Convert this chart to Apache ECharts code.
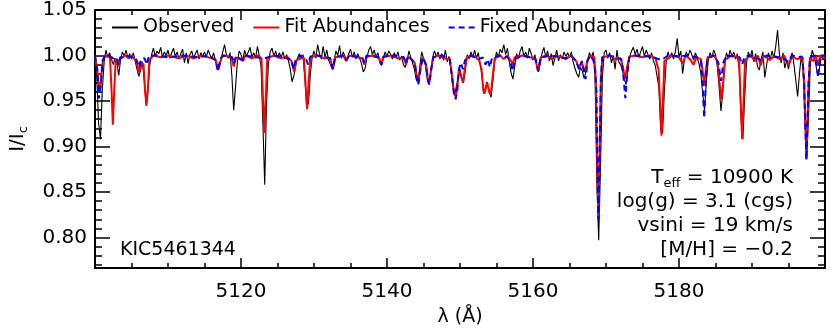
<!DOCTYPE html>
<html>
<head>
<meta charset="utf-8">
<title>KIC5461344</title>
<script src="https://cdn.jsdelivr.net/npm/echarts@6/dist/echarts.min.js"></script>
<style>
    html, body { margin: 0; padding: 0; background: #fff; }
    #chart { width: 830px; height: 332px; }
</style>
</head>
<body>
<div id="chart"></div>
<script>
// observed spectrum, sampled every 0.25 A from 5100 A
var obsStart = 5100;
var obsStep = 0.25;
var observed = [
    1.004, 0.975, 0.925, 0.908, 0.962, 0.993, 1.006, 0.998, 1.003, 0.996, 0.990, 0.997, 0.992, 0.978, 0.995, 1.004, 0.999, 1.006, 0.997, 1.002,
    0.996, 1.003, 0.994, 0.985, 0.977, 0.984, 0.993, 0.972, 0.945, 0.962, 0.990, 1.001, 1.008, 0.999, 1.005, 1.002, 1.009, 0.998, 1.004, 1.000,
    1.006, 0.997, 1.003, 1.008, 0.999, 1.004, 0.996, 1.002, 1.007, 0.992, 1.003, 0.991, 1.001, 1.005, 0.997, 1.002, 1.006, 0.996, 1.003, 0.999,
    1.004, 0.998, 1.006, 1.001, 0.996, 1.003, 0.994, 0.985, 0.984, 0.995, 1.004, 1.012, 1.001, 0.997, 1.003, 0.978, 0.940, 0.965, 0.993, 1.005,
    1.001, 0.995, 1.006, 0.999, 1.004, 1.009, 0.998, 1.003, 0.997, 1.010, 1.000, 0.988, 0.925, 0.858, 0.948, 0.990, 1.004, 1.008, 0.999, 1.005,
    0.997, 1.003, 0.998, 1.004, 0.996, 1.001, 0.994, 0.985, 0.971, 0.978, 0.990, 0.997, 1.002, 0.996, 1.001, 0.975, 0.943, 0.948, 0.980, 0.998,
    1.005, 0.997, 1.012, 1.002, 0.996, 1.010, 0.998, 1.006, 0.995, 0.990, 0.985, 0.994, 1.005, 1.000, 1.011, 0.997, 1.004, 0.999, 0.994, 1.002,
    1.007, 0.998, 1.004, 0.996, 1.002, 0.997, 0.991, 0.982, 0.986, 0.998, 1.006, 1.010, 1.001, 1.006, 0.998, 1.003, 0.993, 0.989, 0.997, 1.004,
    0.999, 1.005, 1.001, 0.996, 1.003, 0.998, 1.004, 0.995, 0.999, 0.990, 0.987, 0.994, 1.005, 0.998, 0.992, 0.985, 0.974, 0.970, 0.988, 1.004,
    0.997, 0.990, 0.975, 0.969, 0.982, 0.998, 1.005, 0.999, 1.004, 0.996, 1.002, 0.995, 1.006, 0.993, 0.999, 0.985, 0.968, 0.956, 0.958, 0.976,
    0.985, 0.975, 0.971, 0.985, 1.001, 0.996, 1.004, 0.998, 1.006, 0.997, 1.003, 0.992, 0.978, 0.958, 0.962, 0.970, 0.960, 0.954, 0.972, 0.993,
    1.004, 0.998, 1.007, 1.003, 1.012, 1.001, 1.008, 0.993, 0.981, 0.974, 0.988, 1.002, 0.997, 1.005, 1.010, 0.999, 1.004, 0.997, 1.008, 1.002,
    0.995, 1.001, 0.990, 0.982, 0.991, 1.003, 1.009, 0.998, 1.005, 0.994, 1.002, 0.989, 0.997, 1.006, 0.994, 1.001, 0.996, 1.004, 0.999, 1.003,
    0.998, 1.004, 0.993, 0.986, 0.980, 0.976, 0.987, 0.983, 0.975, 0.982, 0.996, 1.003, 0.997, 1.004, 0.975, 0.860, 0.797, 0.880, 0.975, 1.003,
    1.006, 0.997, 1.003, 0.992, 1.000, 0.985, 1.006, 0.993, 0.990, 0.984, 0.974, 0.968, 0.986, 0.999, 1.005, 1.009, 1.001, 1.007, 0.998, 1.004,
    1.010, 0.999, 1.006, 1.001, 0.996, 1.003, 0.994, 0.989, 0.988, 0.965, 0.918, 0.915, 0.962, 0.993, 1.004, 0.997, 1.003, 0.996, 1.004, 1.019,
    0.998, 1.005, 0.980, 0.996, 1.004, 0.999, 1.006, 1.001, 0.995, 1.003, 0.997, 0.991, 0.980, 0.958, 0.940, 0.972, 0.994, 1.003, 0.998, 1.006,
    1.001, 0.988, 0.965, 0.939, 0.960, 0.990, 1.003, 0.997, 1.006, 0.999, 1.004, 0.996, 1.002, 0.985, 0.930, 0.908, 0.955, 0.992, 1.004, 0.998,
    1.006, 0.993, 1.002, 0.988, 0.984, 0.996, 1.004, 0.976, 0.989, 1.003, 0.995, 1.005, 0.997, 1.010, 1.028, 1.002, 0.992, 1.003, 0.986, 0.995,
    0.985, 0.997, 1.003, 0.990, 0.973, 0.955, 0.980, 1.000, 0.985, 0.930, 0.887, 0.935, 0.992, 1.006, 0.999, 0.990, 0.978, 0.986, 1.001, 0.995,
    0.998
];

// model spectra as [wavelength, normalised flux]
var fitAbund = [
    [5100.0, 0.998], [5100.3, 0.985], [5100.55, 0.962], [5100.75, 0.965], [5101.0, 0.990], [5101.3, 1.000],
    [5102.05, 0.998], [5102.25, 0.965], [5102.45, 0.924], [5102.65, 0.965], [5102.85, 0.997],
    [5103.0, 0.995], [5103.2, 0.988], [5103.4, 0.996], [5104.2, 1.000], [5104.6, 0.997], [5105.0, 1.000],
    [5105.7, 0.993], [5106.0, 0.981], [5106.3, 0.993],
    [5106.65, 0.990], [5106.85, 0.963], [5107.05, 0.945], [5107.25, 0.963], [5107.45, 0.995],
    [5108.0, 1.000], [5109.0, 0.998], [5110.0, 1.000], [5111.5, 0.997], [5112.5, 1.000], [5113.5, 0.997], [5114.5, 1.000],
    [5116.5, 0.996], [5116.9, 0.984], [5117.3, 0.997], [5117.6, 1.000],
    [5118.7, 0.998], [5119.0, 0.988], [5119.3, 0.998],
    [5120.3, 0.994], [5120.6, 1.000], [5121.5, 0.997], [5122.3, 1.000],
    [5122.8, 0.997], [5123.0, 0.955], [5123.2, 0.915], [5123.4, 0.955], [5123.6, 0.997],
    [5124.5, 1.000], [5125.5, 0.997], [5126.3, 0.999],
    [5126.9, 0.994], [5127.3, 0.982], [5127.6, 0.995],
    [5128.6, 0.998], [5128.8, 0.975], [5129.05, 0.941], [5129.3, 0.975], [5129.5, 0.998],
    [5130.5, 1.000], [5131.4, 0.997], [5132.2, 0.997], [5132.6, 0.985], [5132.9, 0.998],
    [5134.0, 1.000], [5134.4, 0.994], [5134.8, 1.000], [5136.6, 0.997], [5136.9, 0.990], [5137.2, 0.999],
    [5138.3, 1.000], [5139.0, 0.996], [5139.25, 0.990], [5139.5, 0.998],
    [5140.5, 1.000], [5141.5, 0.997], [5142.3, 0.998], [5142.6, 0.990], [5142.9, 0.999],
    [5143.8, 0.992], [5144.1, 0.976], [5144.3, 0.971], [5144.55, 0.985], [5144.9, 0.998],
    [5145.35, 0.990], [5145.6, 0.974], [5145.8, 0.970], [5146.05, 0.985], [5146.35, 0.998],
    [5147.0, 1.000], [5147.8, 0.997], [5148.6, 0.996],
    [5148.95, 0.975], [5149.2, 0.958], [5149.4, 0.955], [5149.6, 0.962], [5149.85, 0.985],
    [5150.1, 0.983], [5150.4, 0.970], [5150.65, 0.985], [5150.95, 0.998],
    [5151.8, 1.000], [5152.6, 0.995],
    [5152.95, 0.985], [5153.2, 0.962], [5153.35, 0.958], [5153.7, 0.971], [5154.0, 0.960], [5154.2, 0.957], [5154.45, 0.975], [5154.75, 0.997],
    [5155.5, 1.000], [5156.0, 0.996], [5156.5, 1.000], [5157.0, 0.994], [5157.2, 0.990], [5157.5, 0.998],
    [5158.5, 1.000], [5159.5, 0.998], [5160.3, 0.997], [5160.7, 0.983], [5161.05, 0.998],
    [5162.0, 1.000], [5162.6, 0.996], [5163.2, 1.000], [5164.5, 0.996], [5165.2, 1.000],
    [5165.9, 0.994], [5166.3, 0.986], [5166.65, 0.993], [5167.1, 0.982], [5167.5, 0.996], [5167.9, 1.000],
    [5168.4, 0.998], [5168.6, 0.975], [5168.8, 0.880], [5168.95, 0.820], [5169.1, 0.880], [5169.3, 0.975], [5169.5, 0.998],
    [5170.5, 1.000], [5171.3, 0.996], [5172.0, 0.997],
    [5172.3, 0.988], [5172.6, 0.974], [5172.9, 0.988], [5173.2, 0.999],
    [5174.0, 1.000], [5175.0, 0.998], [5176.0, 1.000], [5176.8, 0.997], [5177.0, 0.990], [5177.2, 0.985],
    [5177.4, 0.950], [5177.6, 0.912], [5177.8, 0.950], [5178.0, 0.994],
    [5179.0, 1.000], [5180.0, 0.998], [5180.5, 0.991], [5180.9, 1.000], [5181.5, 0.996], [5182.0, 0.990], [5182.4, 0.998],
    [5183.0, 0.996], [5183.25, 0.982], [5183.45, 0.967], [5183.65, 0.982], [5183.9, 0.998],
    [5184.8, 1.000], [5185.3, 0.993], [5185.55, 0.970], [5185.8, 0.952], [5186.05, 0.970], [5186.3, 0.995],
    [5187.2, 1.000], [5188.0, 0.998], [5188.25, 0.992], [5188.45, 0.950], [5188.65, 0.908], [5188.85, 0.950], [5189.05, 0.995],
    [5189.8, 1.000], [5190.4, 0.994], [5190.8, 1.000], [5191.2, 0.989], [5191.6, 1.000], [5192.4, 0.995], [5193.0, 0.999],
    [5193.8, 0.996], [5194.4, 1.000], [5195.0, 0.989], [5195.5, 0.999], [5196.2, 0.996], [5196.9, 0.998],
    [5197.15, 0.970], [5197.3, 0.925], [5197.45, 0.887], [5197.6, 0.925], [5197.75, 0.970], [5197.95, 0.998],
    [5198.4, 0.994], [5198.7, 1.000], [5199.05, 0.990], [5199.35, 1.000], [5200.0, 0.997]
];

var fixedAbund = [
    [5100.0, 1.000], [5100.3, 0.985], [5100.55, 0.953], [5100.8, 0.968], [5101.05, 0.995], [5101.4, 1.000],
    [5102.3, 0.998], [5102.6, 0.996], [5103.0, 0.997], [5103.2, 0.990], [5103.45, 0.998],
    [5104.5, 0.999], [5105.5, 0.998], [5105.8, 0.993], [5106.05, 0.987], [5106.3, 0.996],
    [5106.8, 0.997], [5107.1, 0.990], [5107.4, 1.000],
    [5108.5, 1.000], [5110.0, 0.998], [5112.0, 1.000], [5114.0, 0.998], [5115.5, 1.000],
    [5116.5, 0.995], [5116.85, 0.983], [5117.2, 0.997], [5117.6, 1.000],
    [5118.8, 0.998], [5119.05, 0.991], [5119.3, 0.999],
    [5120.3, 0.995], [5120.6, 1.000], [5122.0, 0.998], [5123.2, 0.997], [5124.5, 1.000], [5126.0, 0.998],
    [5126.9, 0.995], [5127.2, 0.985], [5127.5, 0.996], [5128.2, 1.000], [5128.9, 0.996], [5129.2, 0.990], [5129.5, 0.999],
    [5130.5, 1.000], [5132.2, 0.997], [5132.6, 0.985], [5132.9, 0.998], [5134.0, 1.000], [5134.4, 0.995], [5134.8, 1.000],
    [5136.6, 0.998], [5136.9, 0.992], [5137.2, 1.000], [5138.9, 0.998], [5139.2, 0.990], [5139.5, 0.999],
    [5141.0, 1.000], [5142.3, 0.998], [5142.6, 0.991], [5142.9, 1.000],
    [5143.8, 0.992], [5144.1, 0.974], [5144.3, 0.968], [5144.55, 0.983], [5144.9, 0.998],
    [5145.35, 0.990], [5145.6, 0.972], [5145.8, 0.968], [5146.05, 0.984], [5146.35, 0.998],
    [5147.5, 1.000], [5148.6, 0.996], [5148.95, 0.974], [5149.2, 0.956], [5149.4, 0.952], [5149.6, 0.960], [5149.85, 0.985],
    [5150.1, 0.992], [5150.4, 0.985], [5150.7, 0.995], [5151.5, 1.000], [5152.6, 0.996],
    [5153.1, 0.998], [5153.5, 0.990], [5153.8, 0.996], [5154.1, 0.987], [5154.4, 0.998],
    [5155.5, 1.000], [5156.5, 0.998], [5156.9, 0.993], [5157.2, 0.983], [5157.5, 0.996],
    [5158.5, 1.000], [5160.3, 0.997], [5160.7, 0.983], [5161.05, 0.998],
    [5162.5, 1.000], [5164.5, 0.997], [5165.2, 1.000],
    [5165.9, 0.994], [5166.3, 0.985], [5166.7, 0.994], [5167.2, 0.974], [5167.5, 0.995], [5167.9, 1.000],
    [5168.3, 0.994], [5168.5, 0.985], [5168.7, 0.960], [5168.82, 0.880], [5168.95, 0.820], [5169.1, 0.880], [5169.3, 0.975], [5169.5, 0.998],
    [5170.5, 1.000], [5171.5, 0.997], [5172.1, 0.996],
    [5172.35, 0.980], [5172.65, 0.953], [5172.9, 0.978], [5173.2, 0.998],
    [5174.0, 1.000], [5176.0, 0.999], [5177.6, 0.995], [5178.5, 1.000],
    [5180.0, 0.999], [5181.0, 1.000], [5182.5, 0.998],
    [5183.0, 0.995], [5183.2, 0.975], [5183.45, 0.931], [5183.7, 0.975], [5183.9, 0.997],
    [5184.8, 1.000], [5185.4, 0.992], [5185.75, 0.972], [5186.1, 0.993], [5186.5, 1.000],
    [5188.3, 0.998], [5188.65, 0.990], [5189.0, 0.999],
    [5190.0, 1.000], [5191.2, 0.995], [5192.0, 1.000], [5194.0, 0.998], [5195.0, 0.993], [5195.5, 1.000], [5196.9, 0.998],
    [5197.15, 0.970], [5197.3, 0.925], [5197.45, 0.885], [5197.6, 0.925], [5197.75, 0.970], [5197.95, 0.998],
    [5198.7, 1.000], [5198.85, 0.990], [5199.05, 0.976], [5199.25, 0.990], [5199.5, 1.000], [5200.0, 1.000]
];

var seriesNames = ['Observed', 'Fit Abundances', 'Fixed Abundances'];
var paramLines = [
    ['T', 'eff', ' = 10900 K'],
    ['log(g) = 3.1 (cgs)'],
    ['vsini = 19 km/s'],
    ['[M/H] = \u22120.2']
];
var starName = 'KIC5461344';

var FONT = 'DejaVu Sans';

var observedPairs = observed.map(function (v, i) {
    return [obsStart + i * obsStep, v];
});

function paramText() {
    return paramLines.map(function (parts) {
        if (parts.length === 3) {
            return '{a|' + parts[0] + '}{s|' + parts[1] + '}{a|' + parts[2] + '}';
        }
        return '{a|' + parts[0] + '}';
    }).join('\n');
}

function xAxisBase(pos) {
    return {
        type: 'value',
        position: pos,
        min: 5100,
        max: 5200,
        interval: 20,
        axisLine: { lineStyle: { color: '#000', width: 2 } },
        axisTick: { inside: true, length: 10, lineStyle: { color: '#000', width: 1.5 } },
        minorTick: { show: true, splitNumber: 4, length: 5, lineStyle: { color: '#000', width: 1.5 } },
        splitLine: { show: false },
        axisLabel: {
            show: pos === 'bottom',
            color: '#000',
            fontFamily: FONT,
            fontSize: 20,
            margin: 14,
            showMinLabel: false,
            showMaxLabel: false,
            formatter: function (v) { return String(v); }
        }
    };
}

function yAxisBase(pos) {
    return {
        type: 'value',
        position: pos,
        min: 0.7665,
        max: 1.05,
        minInterval: 0.05,
        maxInterval: 0.05,
        axisLine: { show: true, lineStyle: { color: '#000', width: 2 } },
        axisTick: { show: true, inside: true, length: 15, lineStyle: { color: '#000', width: 1.5 } },
        minorTick: { show: true, splitNumber: 5, length: 7, lineStyle: { color: '#000', width: 1.5 } },
        splitLine: { show: false },
        axisLabel: {
            show: pos === 'left',
            color: '#000',
            fontFamily: FONT,
            fontSize: 20,
            margin: 8,
            showMinLabel: false,
            formatter: function (v) { return v.toFixed(2); }
        }
    };
}

var chart = echarts.init(document.getElementById('chart'), null, { renderer: 'canvas' });

var xBottom = xAxisBase('bottom');
xBottom.name = '\u03bb (\u00c5)';
xBottom.nameLocation = 'middle';
xBottom.nameGap = 40;
xBottom.nameTextStyle = { color: '#000', fontFamily: FONT, fontSize: 19 };

var yLeft = yAxisBase('left');
yLeft.name = '{a|I/I}{s|c}';
yLeft.nameLocation = 'middle';
yLeft.nameGap = 65;
yLeft.nameTextStyle = {
    color: '#000',
    rich: {
        a: { fontFamily: FONT, fontSize: 20, color: '#000', lineHeight: 24 },
        s: { fontFamily: FONT, fontSize: 13, color: '#000', lineHeight: 13, verticalAlign: 'bottom' }
    }
};

var option = {
    backgroundColor: '#fff',
    animation: false,
    grid: { left: 90, right: 5, top: 4, bottom: 63, containLabel: false },
    legend: {
        data: seriesNames,
        left: 106,
        top: 13,
        itemWidth: 26,
        itemHeight: 14,
        itemGap: 18,
        itemStyle: { opacity: 0 },
        textStyle: { color: '#000', fontFamily: FONT, fontSize: 19 }
    },
    xAxis: [xBottom, xAxisBase('top')],
    yAxis: [yLeft, yAxisBase('right')],
    series: [
        {
            name: seriesNames[0],
            type: 'line',
            data: observedPairs,
            showSymbol: false,
            symbol: 'none',
            lineStyle: { color: '#000', width: 1.1 },
            itemStyle: { color: '#000' },
            z: 2
        },
        {
            name: seriesNames[1],
            type: 'line',
            data: fitAbund,
            showSymbol: false,
            symbol: 'none',
            lineStyle: { color: '#ff0000', width: 2 },
            itemStyle: { color: '#ff0000' },
            z: 3
        },
        {
            name: seriesNames[2],
            type: 'line',
            data: fixedAbund,
            showSymbol: false,
            symbol: 'none',
            lineStyle: { color: '#0000ff', width: 2, type: [6, 4] },
            itemStyle: { color: '#0000ff' },
            z: 4
        }
    ],
    graphic: [
        {
            type: 'text',
            x: 793,
            y: 166,
            z: 10,
            style: {
                text: paramText(),
                align: 'right',
                verticalAlign: 'top',
                fill: '#000',
                rich: {
                    a: { fontFamily: FONT, fontSize: 20, lineHeight: 24, fill: '#000' },
                    s: { fontFamily: FONT, fontSize: 13, lineHeight: 13, verticalAlign: 'bottom', fill: '#000' }
                }
            }
        },
        {
            type: 'text',
            x: 120,
            y: 250,
            z: 10,
            style: {
                text: starName,
                fill: '#000',
                font: '19px "' + FONT + '"',
                verticalAlign: 'middle'
            }
        }
    ]
};

chart.setOption(option);
</script>
</body>
</html>
